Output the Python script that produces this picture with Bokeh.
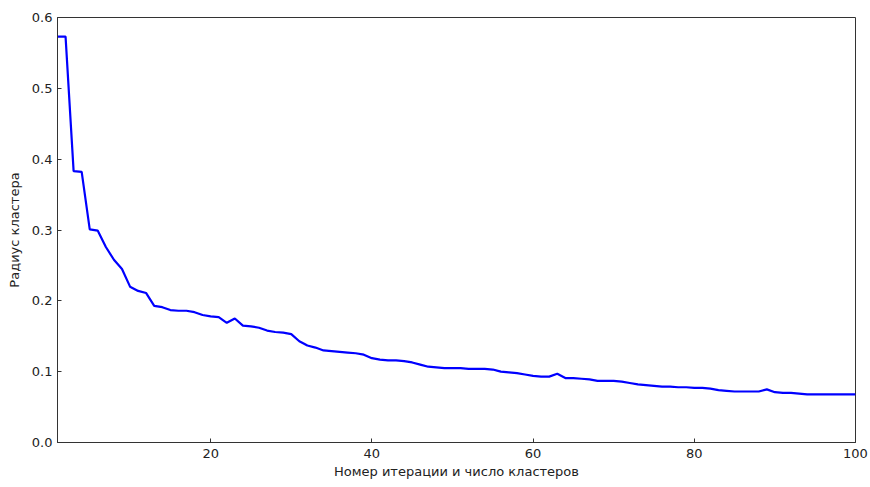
from bokeh.plotting import figure
from bokeh.models import Range1d, FixedTicker, NumeralTickFormatter
from bokeh.embed import file_html
from bokeh.resources import INLINE

# Iteration number (= number of clusters) and the cluster radius at each step
iterations = list(range(1, 101))
radius = [
    0.573, 0.573, 0.383, 0.382, 0.301, 0.299, 0.276, 0.258, 0.245, 0.220,
    0.214, 0.211, 0.193, 0.191, 0.187, 0.186, 0.186, 0.184, 0.180, 0.178,
    0.177, 0.169, 0.175, 0.165, 0.164, 0.162, 0.158, 0.156, 0.155, 0.153,
    0.143, 0.137, 0.134, 0.130, 0.129, 0.128, 0.127, 0.126, 0.124, 0.119,
    0.117, 0.116, 0.116, 0.115, 0.113, 0.110, 0.107, 0.106, 0.105, 0.105,
    0.105, 0.104, 0.104, 0.104, 0.103, 0.100, 0.099, 0.098, 0.096, 0.094,
    0.093, 0.093, 0.097, 0.091, 0.091, 0.090, 0.089, 0.087, 0.087, 0.087,
    0.086, 0.084, 0.082, 0.081, 0.080, 0.079, 0.079, 0.078, 0.078, 0.077,
    0.077, 0.076, 0.074, 0.073, 0.072, 0.072, 0.072, 0.072, 0.075, 0.071,
    0.070, 0.070, 0.069, 0.068, 0.068, 0.068, 0.068, 0.068, 0.068, 0.068,
]
x_ticks = [20, 40, 60, 80, 100]
y_ticks = [0.0, 0.1, 0.2, 0.3, 0.4, 0.5, 0.6]

FONT = "DejaVu Sans"

p = figure(
    width=870, height=487,
    output_backend="svg", toolbar_location=None,
    x_range=Range1d(1, 100), y_range=Range1d(0, 0.6),
    min_border_left=57, min_border_right=15,
    min_border_top=17, min_border_bottom=45,
)
p.background_fill_color = "white"
p.border_fill_color = "white"
p.outline_line_color = "#333333"
p.outline_line_width = 1
p.xgrid.visible = False
p.ygrid.visible = False

p.line(iterations, radius, line_color="#0000ff", line_width=2.2)

for ax, ticks in ((p.xaxis[0], x_ticks), (p.yaxis[0], y_ticks)):
    ax.ticker = FixedTicker(ticks=ticks)
    ax.major_tick_in = 4
    ax.major_tick_out = 0
    ax.minor_tick_in = 0
    ax.minor_tick_out = 0
    ax.axis_line_color = "#333333"
    ax.major_tick_line_color = "#333333"
    ax.major_label_text_font = FONT
    ax.major_label_text_font_size = "13px"
    ax.major_label_text_color = "#222222"
    ax.axis_label_text_font = FONT
    ax.axis_label_text_font_size = "13px"
    ax.axis_label_text_font_style = "normal"
    ax.axis_label_text_color = "#222222"

p.yaxis[0].formatter = NumeralTickFormatter(format="0.0")
p.xaxis[0].axis_label = "Номер итерации и число кластеров"
p.yaxis[0].axis_label = "Радиус кластера"
p.xaxis[0].major_label_standoff = 6
p.xaxis[0].axis_label_standoff = 3
p.yaxis[0].major_label_standoff = 5
p.yaxis[0].axis_label_standoff = 7

open("out.html", "w").write(file_html(p, INLINE))
